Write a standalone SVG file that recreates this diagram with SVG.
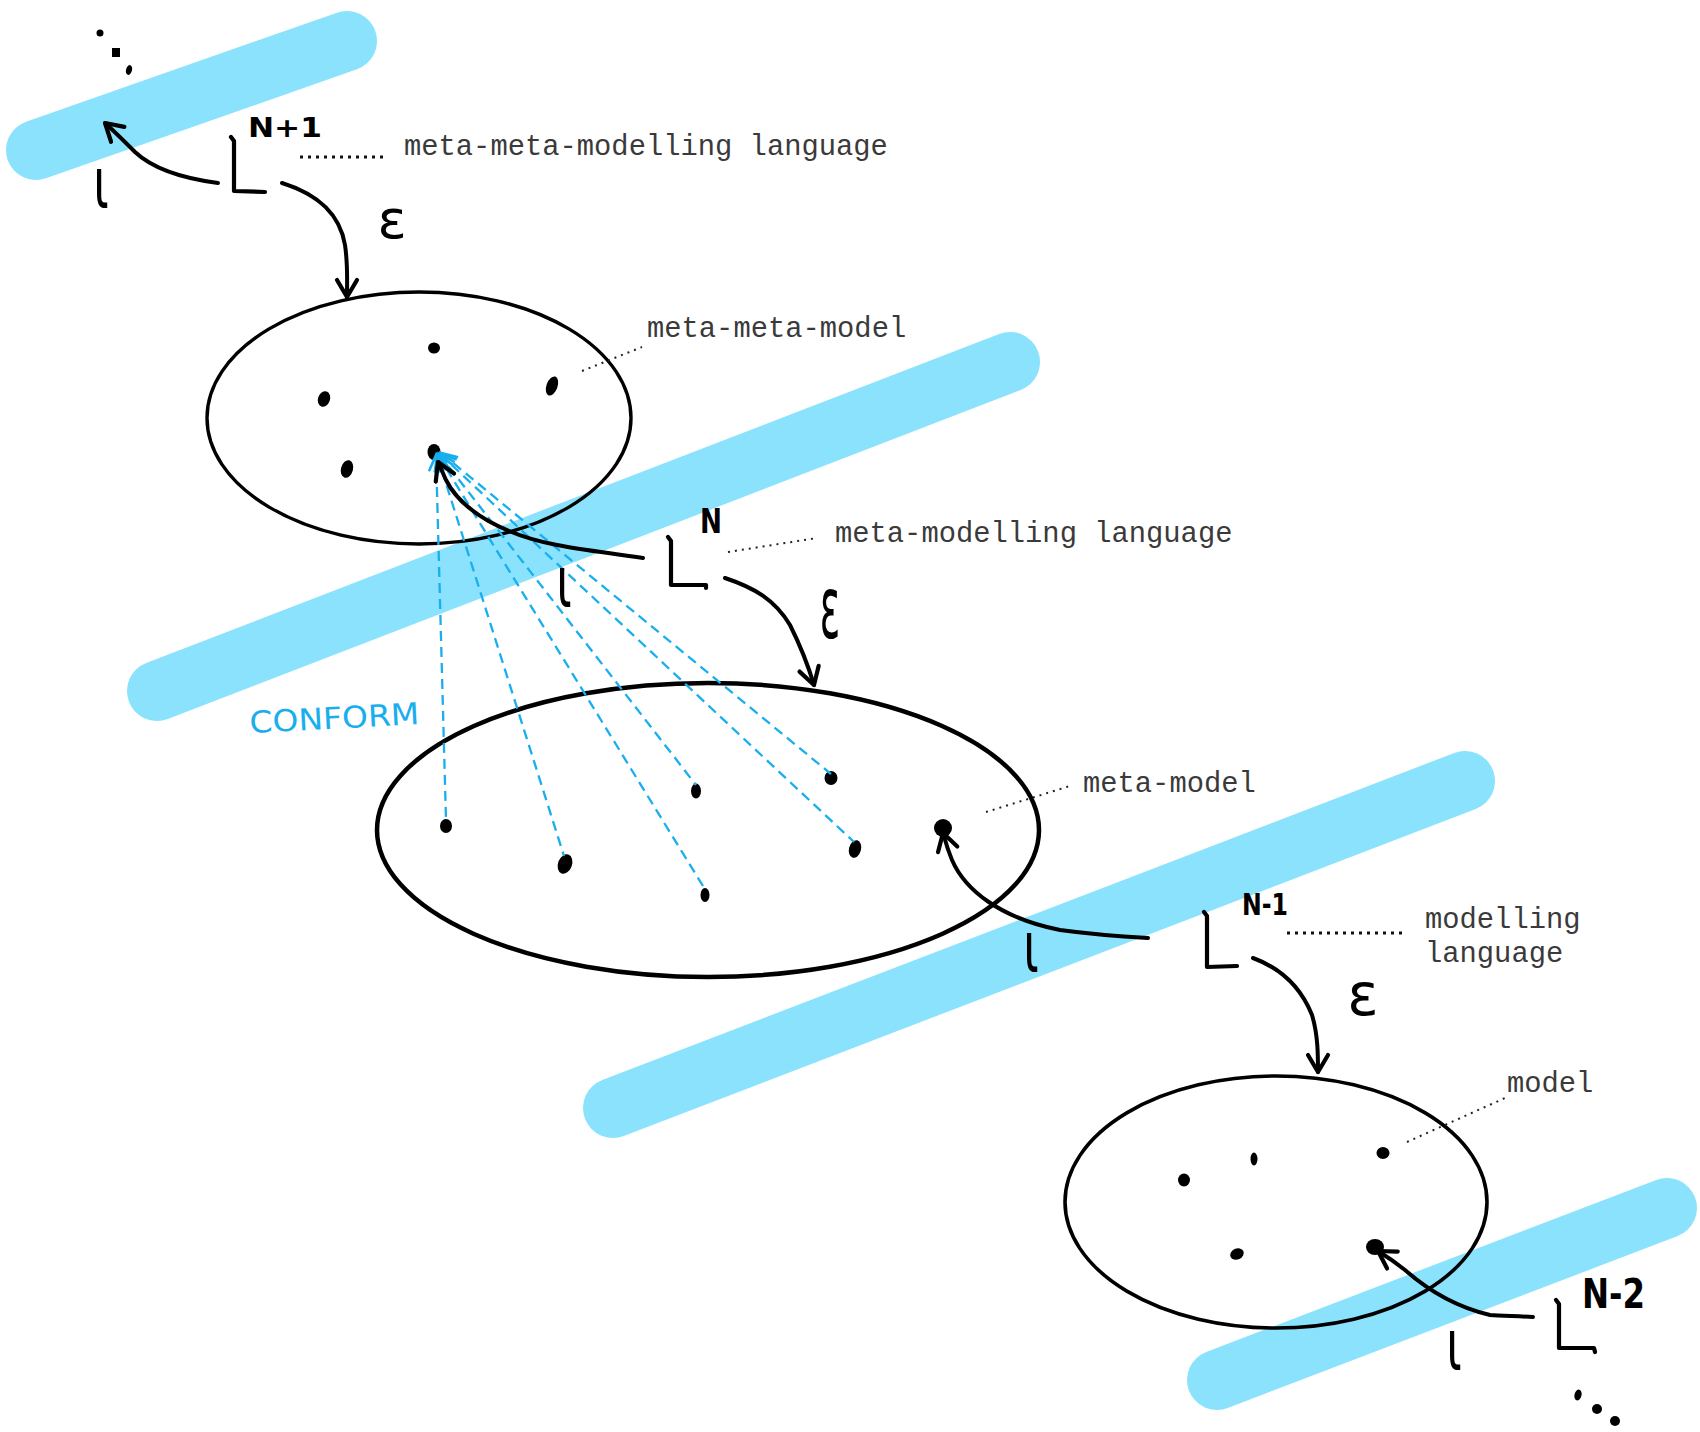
<svg xmlns="http://www.w3.org/2000/svg" width="1700" height="1432" viewBox="0 0 1700 1432">
<style>
.band{stroke:#8ae2fd;stroke-width:60;stroke-linecap:round;fill:none}
.ell{fill:none;stroke:#000}
.dot{fill:#000}
.ink{fill:none;stroke:#000;stroke-width:4.2;stroke-linecap:round;stroke-linejoin:round}
.arr{fill:none;stroke:#000;stroke-width:4;stroke-linecap:round;marker-end:url(#ah)}
.conf{fill:none;stroke:#19aeee;stroke-width:2.3;stroke-dasharray:10 6;marker-start:url(#bh)}
.lead{fill:none;stroke:#222;stroke-width:2;stroke-dasharray:2 5}
.leadb{fill:none;stroke:#111;stroke-width:3;stroke-dasharray:3 5}
.mono{font-family:"Liberation Mono","Courier New",monospace;font-size:28.8px;fill:#3a3a3a}
.hand{font-family:"DejaVu Sans",sans-serif;fill:#000}
.lvl{font-family:"DejaVu Sans",sans-serif;font-weight:bold;fill:#000}
</style>
<defs>
<marker id="ah" viewBox="-22 -14 26 28" markerWidth="26" markerHeight="28" refX="0" refY="0" orient="auto" markerUnits="userSpaceOnUse">
<path d="M-17,-10 L0,0 L-17,10" fill="none" stroke="#000" stroke-width="4.2" stroke-linecap="round" stroke-linejoin="round"/>
</marker>
<marker id="bh" viewBox="-20 -12 24 24" markerWidth="24" markerHeight="24" refX="0" refY="0" orient="auto-start-reverse" markerUnits="userSpaceOnUse">
<path d="M-15,-7 L0,0 L-15,7" fill="none" stroke="#19aeee" stroke-width="2.6" stroke-dasharray="none" stroke-linecap="round"/>
</marker>
</defs>

<g id="bands">
<line id="band-n1" class="band" x1="36" y1="150" x2="347" y2="41"/>
<line id="band-n" class="band" x1="157" y1="691" x2="1010" y2="362"/>
<line id="band-nm1" class="band" x1="613" y1="1108" x2="1465" y2="781"/>
<line id="band-nm2" class="band" x1="1217" y1="1380" x2="1667" y2="1208"/>
</g>

<g id="ellipsis-top">
<circle class="dot" cx="100" cy="33" r="3.5"/>
<rect class="dot" x="112" y="48" width="8" height="9"/>
<ellipse class="dot" cx="129" cy="70" rx="3" ry="5" transform="rotate(15 129 70)"/>
</g>

<g id="node-metametamodel">
<ellipse class="ell" cx="419" cy="418" rx="212" ry="126" stroke-width="3.4"/>
<ellipse class="dot" cx="434" cy="348" rx="6" ry="5.5"/>
<ellipse class="dot" cx="324" cy="399" rx="6" ry="8" transform="rotate(20 324 399)"/>
<ellipse class="dot" cx="552" cy="386" rx="5.5" ry="10" transform="rotate(20 552 386)"/>
<ellipse class="dot" cx="347" cy="469" rx="6" ry="9" transform="rotate(15 347 469)"/>
<ellipse class="dot" cx="434" cy="452" rx="6.5" ry="8"/>
</g>

<g id="node-metamodel">
<ellipse class="ell" cx="708" cy="830" rx="331" ry="147" stroke-width="4.5"/>
<ellipse class="dot" cx="446" cy="826" rx="6" ry="7"/>
<ellipse class="dot" cx="565" cy="864" rx="7" ry="10" transform="rotate(20 565 864)"/>
<ellipse class="dot" cx="696" cy="791" rx="5" ry="7.5"/>
<ellipse class="dot" cx="705" cy="895" rx="4.5" ry="7"/>
<ellipse class="dot" cx="831" cy="778" rx="6.5" ry="7"/>
<ellipse class="dot" cx="855" cy="849" rx="6" ry="9" transform="rotate(15 855 849)"/>
<ellipse class="dot" cx="943" cy="828" rx="9" ry="9"/>
</g>

<g id="node-model">
<ellipse class="ell" cx="1276" cy="1202" rx="211" ry="126" stroke-width="3.6"/>
<ellipse class="dot" cx="1184" cy="1180" rx="6" ry="6.5"/>
<ellipse class="dot" cx="1254" cy="1159" rx="3.5" ry="6.5"/>
<ellipse class="dot" cx="1383" cy="1153" rx="6.5" ry="6"/>
<ellipse class="dot" cx="1237" cy="1254" rx="7" ry="5.5" transform="rotate(-25 1237 1254)"/>
<ellipse class="dot" cx="1375" cy="1247" rx="9" ry="8"/>
</g>

<g id="lang-n1">
<path class="ink" d="M231,137 L234,141 L234,191 L265,192"/>
<text class="lvl" x="248" y="137" font-size="27" textLength="74" lengthAdjust="spacingAndGlyphs">N+1</text>
</g>
<g id="lang-n">
<path class="ink" d="M668,537 L671,541 L671,585 L706,585 L706,588"/>
<text class="lvl" x="700" y="533" font-size="34" textLength="22" lengthAdjust="spacingAndGlyphs">N</text>
</g>
<g id="lang-nm1">
<path class="ink" d="M1204,912 L1207,916 L1207,967 L1237,966"/>
<text class="lvl" x="1242" y="915" font-size="31" textLength="46" lengthAdjust="spacingAndGlyphs">N-1</text>
</g>
<g id="lang-nm2">
<path class="ink" d="M1556,1300 L1559,1304 L1559,1348 L1594,1348 L1595,1352"/>
<text class="hand" x="1582" y="1308" font-size="41" font-weight="bold" textLength="63" lengthAdjust="spacingAndGlyphs">N-2</text>
</g>

<g id="ellipsis-bottom">
<ellipse class="dot" cx="1578" cy="1395" rx="3.5" ry="5.5" transform="rotate(15 1578 1395)"/>
<circle class="dot" cx="1597" cy="1409" r="5"/>
<circle class="dot" cx="1615" cy="1421" r="5"/>
</g>

<g id="connectors">
<path class="conf" d="M436,455 L446,820"/>
<path class="conf" d="M437,455 L564,856"/>
<path class="conf" d="M438,455 L703,886"/>
<path class="conf" d="M439,454 L696,785"/>
<path class="conf" d="M440,454 L854,842"/>
<path class="conf" d="M441,453 L831,774"/>

<path class="arr" d="M218,183 C180,178 152,168 135,152 C124,141 114,131 105,123"/>
<path class="arr" d="M282,183 C320,195 340,215 345,245 C348,265 347,280 347,297"/>
<path class="arr" d="M643,558 C610,553 582,550 557,545 C505,535 462,512 446,480 L438,462"/>
<path class="arr" d="M725,578 C755,588 775,600 790,625 C800,645 808,665 814,685"/>
<path class="arr" d="M1148,938 C1112,936 1082,933 1060,930 C1000,918 965,890 952,860 C947,848 945,840 943,833"/>
<path class="arr" d="M1253,958 C1280,968 1300,985 1312,1015 C1318,1035 1318,1055 1318,1072"/>
<path class="arr" d="M1533,1317 C1515,1316 1500,1316 1490,1315 C1460,1308 1430,1292 1405,1270 C1395,1262 1386,1256 1378,1251"/>

<line class="leadb" x1="300" y1="157" x2="388" y2="157"/>
<line class="lead" x1="582" y1="371" x2="642" y2="347"/>
<line class="lead" x1="728" y1="552" x2="817" y2="538"/>
<line class="lead" x1="986" y1="812" x2="1070" y2="786"/>
<line class="leadb" x1="1287" y1="933" x2="1403" y2="933"/>
<line class="lead" x1="1407" y1="1142" x2="1505" y2="1098"/>
</g>

<g id="labels">
<text class="hand" transform="translate(101 208) scale(1 1.55)" font-size="46" text-anchor="middle">ι</text>
<text class="hand" transform="translate(564 607) scale(1 1.55)" font-size="46" text-anchor="middle">ι</text>
<text class="hand" transform="translate(1031 972) scale(1 1.55)" font-size="46" text-anchor="middle">ι</text>
<text class="hand" transform="translate(1454 1370) scale(1 1.55)" font-size="46" text-anchor="middle">ι</text>
<text class="hand" x="392" y="238" font-size="54" text-anchor="middle">ε</text>
<text class="hand" transform="translate(830 638) scale(0.7 1.6)" x="0" y="0" font-size="54" text-anchor="middle">ε</text>
<text class="hand" x="1363" y="1015" font-size="58" text-anchor="middle">ε</text>
<text x="250" y="733" font-family="DejaVu Sans, sans-serif" font-size="30" fill="#19aeee" textLength="170" lengthAdjust="spacingAndGlyphs" transform="rotate(-3 250 733)">CONFORM</text>
<text class="mono" x="404" y="155">meta-meta-modelling language</text>
<text class="mono" x="647" y="337">meta-meta-model</text>
<text class="mono" x="835" y="542">meta-modelling language</text>
<text class="mono" x="1083" y="792">meta-model</text>
<text class="mono" x="1425" y="928">modelling</text>
<text class="mono" x="1425" y="962">language</text>
<text class="mono" x="1507" y="1092">model</text>
</g>
</svg>
